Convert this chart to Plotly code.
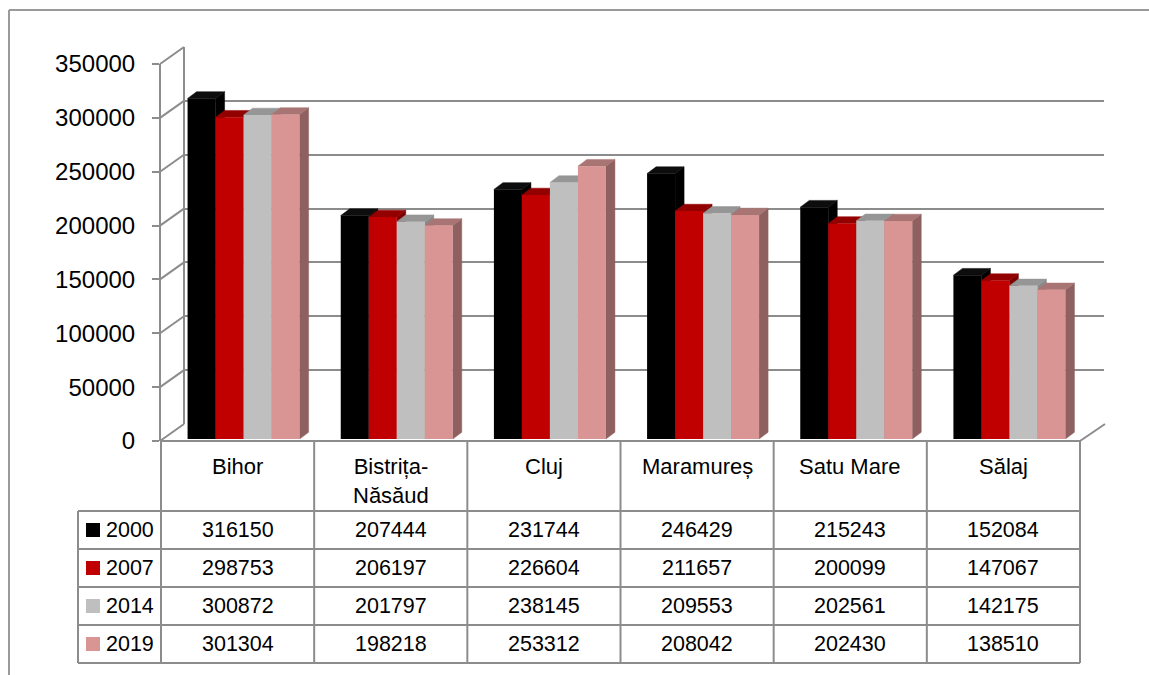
import plotly.graph_objects as go

# ---------------- data ----------------
categories = ["Bihor", "Bistrița-Năsăud", "Cluj", "Maramureș", "Satu Mare", "Sălaj"]
category_labels = ["Bihor", "Bistrița-<br>Năsăud", "Cluj", "Maramureș", "Satu Mare", "Sălaj"]
years = ["2000", "2007", "2014", "2019"]
v2000 = [316150, 207444, 231744, 246429, 215243, 152084]
v2007 = [298753, 206197, 226604, 211657, 200099, 147067]
v2014 = [300872, 201797, 238145, 209553, 202561, 142175]
v2019 = [301304, 198218, 253312, 208042, 202430, 138510]
series = [v2000, v2007, v2014, v2019]
y_ticks = [0, 50000, 100000, 150000, 200000, 250000, 300000, 350000]

# ---------------- style ----------------
front_colors = ["#000000", "#C00000", "#BFBFBF", "#D99594"]
top_colors = ["#0d0d0d", "#930000", "#969696", "#A87574"]
side_colors = ["#000000", "#7d0000", "#8a8a8a", "#8E605F"]
line_col = "#8c8c8c"
FONT = "Liberation Sans, Arial, sans-serif"

W, H = 1149, 675
YMAX = 350000
FL, FR = 161, 1080        # front plane left/right (px)
FT, FB = 64, 441          # front plane y of YMAX / 0 (px)
DX, DY = 24, -17          # back wall depth offset (px)
BSX, BSY = 6, -2          # bar front-plane shift (px)
BDX, BDY = 9, -6.75       # bar depth (px)
ncat = len(categories)
px_per_cat = (FR - FL) / ncat
px_per_val = (FB - FT) / YMAX
bar_w_px = 28
bar_w = bar_w_px / px_per_cat
dxu = BDX / px_per_cat
dyu = -BDY / px_per_val


def PX(x):
    return x / W


def PY(y):
    return 1 - y / H


def fy(v):
    return FB - v * px_per_val


fig = go.Figure()

# dummy traces to establish subplot order
fig.add_trace(go.Scatter(x=[None], y=[None], xaxis="x", yaxis="y", showlegend=False, hoverinfo="skip"))
fig.add_trace(go.Scatter(x=[None], y=[None], xaxis="x2", yaxis="y2", showlegend=False, hoverinfo="skip"))

# 3D faces of bars (sides and tops)
nser = len(series)
for j, vals in enumerate(series):
    sx, sy, tx, ty = [], [], [], []
    for i, v in enumerate(vals):
        xl = i + (j - nser / 2) * bar_w
        xr = xl + bar_w
        sx += [xr, xr, xr + dxu, xr + dxu, xr, None]
        sy += [0, v, v + dyu, dyu, 0, None]
        tx += [xl, xr, xr + dxu, xl + dxu, xl, None]
        ty += [v, v, v + dyu, v + dyu, v, None]
    fig.add_trace(go.Scatter(x=sx, y=sy, xaxis="x3", yaxis="y3", mode="lines", fill="toself",
                             fillcolor=side_colors[j], line=dict(width=0.5, color=side_colors[j]),
                             showlegend=False, hoverinfo="skip"))
    fig.add_trace(go.Scatter(x=tx, y=ty, xaxis="x3", yaxis="y3", mode="lines", fill="toself",
                             fillcolor=top_colors[j], line=dict(width=0.5, color=top_colors[j]),
                             showlegend=False, hoverinfo="skip"))

# front faces
for j, vals in enumerate(series):
    fig.add_trace(go.Bar(x=categories, y=vals, name=years[j], xaxis="x4", yaxis="y4",
                         marker=dict(color=front_colors[j], line=dict(width=0)),
                         showlegend=False))

shapes = []
annotations = []

# outer frame
shapes.append(dict(type="line", xref="paper", yref="paper", x0=PX(9), y0=PY(10), x1=PX(9), y1=PY(H),
                   line=dict(color="#9a9a9a", width=2), layer="below"))
shapes.append(dict(type="line", xref="paper", yref="paper", x0=PX(9), y0=PY(10), x1=PX(W), y1=PY(10),
                   line=dict(color="#9a9a9a", width=2), layer="below"))

# diagonals from front axis to back wall
for v in y_ticks:
    shapes.append(dict(type="line", xref="paper", yref="paper",
                       x0=PX(FL - 1), y0=PY(fy(v)), x1=PX(FL - 1 + DX), y1=PY(fy(v) + DY),
                       line=dict(color=line_col, width=2), layer="below"))
# floor right edge
shapes.append(dict(type="line", xref="paper", yref="paper",
                   x0=PX(FR), y0=PY(FB), x1=PX(FR + DX + 1), y1=PY(FB + DY),
                   line=dict(color=line_col, width=2), layer="below"))

# table
row_y = [FB, 511, 549, 587, 625, 663]
LEG_L = 78
for k in range(ncat + 1):
    x = FL + k * px_per_cat
    shapes.append(dict(type="line", xref="paper", yref="paper", x0=PX(x), y0=PY(FB), x1=PX(x), y1=PY(row_y[-1]),
                       line=dict(color=line_col, width=2), layer="below"))
shapes.append(dict(type="line", xref="paper", yref="paper", x0=PX(LEG_L), y0=PY(row_y[1]), x1=PX(LEG_L), y1=PY(row_y[-1]),
                   line=dict(color=line_col, width=2), layer="below"))
for r, y in enumerate(row_y):
    x0 = FL - 1 if r == 0 else LEG_L
    shapes.append(dict(type="line", xref="paper", yref="paper", x0=PX(x0), y0=PY(y), x1=PX(FR), y1=PY(y),
                       line=dict(color=line_col, width=2), layer="below"))

# header labels
for i, lab in enumerate(category_labels):
    cx = FL + (i + 0.5) * px_per_cat
    annotations.append(dict(x=PX(cx), y=PY(452), xref="paper", yref="paper", text=lab, showarrow=False,
                            xanchor="center", yanchor="top", align="center",
                            font=dict(family=FONT, size=22, color="#000000")))
# data rows
for j, vals in enumerate(series):
    cy = (row_y[j + 1] + row_y[j + 2]) / 2
    shapes.append(dict(type="rect", xref="paper", yref="paper", x0=PX(86), x1=PX(100),
                       y0=PY(cy - 7), y1=PY(cy + 7), fillcolor=front_colors[j], line=dict(width=0)))
    annotations.append(dict(x=PX(104), y=PY(cy), xref="paper", yref="paper", text=years[j], showarrow=False,
                            xanchor="left", yanchor="middle",
                            font=dict(family=FONT, size=21.5, color="#000000")))
    for i, v in enumerate(vals):
        cx = FL + (i + 0.5) * px_per_cat
        annotations.append(dict(x=PX(cx), y=PY(cy), xref="paper", yref="paper", text=str(v), showarrow=False,
                                xanchor="center", yanchor="middle",
                                font=dict(family=FONT, size=21.5, color="#000000")))

hidden = dict(visible=False, fixedrange=True)

fig.update_layout(
    width=W, height=H, autosize=False,
    margin=dict(l=0, r=0, t=0, b=0, pad=0, autoexpand=False),
    paper_bgcolor="white", plot_bgcolor="rgba(0,0,0,0)",
    barmode="group", bargap=1 - nser * bar_w, bargroupgap=0,
    showlegend=False,
    # back wall
    xaxis=dict(domain=[PX(FL + DX), PX(FR + DX)], range=[-0.5, ncat - 0.5], visible=False, anchor="y"),
    yaxis=dict(domain=[PY(FB + DY), PY(FT + DY)], range=[0, YMAX], anchor="x",
               tickvals=y_ticks, showticklabels=False, ticks="", showgrid=True,
               gridcolor=line_col, gridwidth=2, zeroline=False,
               showline=True, linecolor=line_col, linewidth=2),
    # front axis
    xaxis2=dict(domain=[PX(FL), PX(FR)], range=[-0.5, ncat - 0.5], visible=False, anchor="y2"),
    yaxis2=dict(domain=[PY(FB), PY(FT)], range=[0, YMAX], anchor="x2",
                tickvals=y_ticks, ticktext=[str(t) for t in y_ticks], ticks="outside", ticklen=7,
                tickcolor=line_col, tickwidth=2, showgrid=False, zeroline=False,
                showline=True, linecolor=line_col, linewidth=2, ticklabelstandoff=12,
                tickfont=dict(family=FONT, size=24, color="#000000")),
    # bar faces
    xaxis3=dict(domain=[PX(FL + BSX), PX(FR + BSX)], range=[-0.5, ncat - 0.5], anchor="y3", **hidden),
    yaxis3=dict(domain=[PY(FB + BSY), PY(FT + BSY)], range=[0, YMAX], anchor="x3", **hidden),
    # bar fronts
    xaxis4=dict(domain=[PX(FL + BSX), PX(FR + BSX)], range=[-0.5, ncat - 0.5], type="category",
                anchor="y4", **hidden),
    yaxis4=dict(domain=[PY(FB + BSY), PY(FT + BSY)], range=[0, YMAX], anchor="x4", **hidden),
    shapes=shapes,
    annotations=annotations,
)

fig.write_html(
    "out.html",
    config={"responsive": False, "displayModeBar": False},
    post_script="document.body.style.margin='0';document.body.style.overflow='hidden';",
)
